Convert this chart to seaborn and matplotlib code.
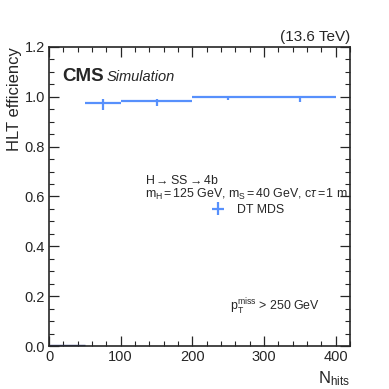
import numpy as np
import pandas as pd
import seaborn as sns
import matplotlib.pyplot as plt
from matplotlib.ticker import MultipleLocator

# bins in N_hits and trigger efficiency
bin_lo = [0, 50, 100, 200, 300]
bin_hi = [50, 100, 200, 300, 400]
eff = [0.0, 0.975, 0.985, 1.0, 1.0]
err_dn = [0.0, 0.027, 0.022, 0.013, 0.021]
err_up = [0.0, 0.015, 0.008, 0.0, 0.0]

df = pd.DataFrame({"lo": bin_lo, "hi": bin_hi, "eff": eff,
                   "dn": err_dn, "up": err_up})
df["x"] = (df["lo"] + df["hi"]) / 2
df["hw"] = (df["hi"] - df["lo"]) / 2

sns.set_style("ticks")
plt.rcParams["font.family"] = ["Liberation Sans", "DejaVu Sans"]
plt.rcParams["mathtext.fontset"] = "custom"
plt.rcParams["mathtext.rm"] = "Liberation Sans"
plt.rcParams["mathtext.it"] = "Liberation Sans:italic"

fig = plt.figure(figsize=(3.89, 3.89), dpi=100)
ax = fig.add_axes([49 / 389, 1 - 346 / 389, (350 - 49) / 389, (346 - 47) / 389])

blue = "#5790fc"
main = df[df["eff"] > 0]
ax.errorbar(main["x"], main["eff"], xerr=main["hw"],
            yerr=[main["dn"], main["up"]], fmt="none", ecolor=blue,
            elinewidth=1.6, capsize=0, label="DT MDS")
zero = df[df["eff"] == 0]
ax.errorbar(zero["x"], zero["eff"] + 0.003, xerr=zero["hw"], fmt="none",
            ecolor="#3b4a8c", elinewidth=1.0, capsize=0, clip_on=False)

ax.set_xlim(0, 420)
ax.set_ylim(0, 1.2)
ax.xaxis.set_major_locator(MultipleLocator(100))
ax.xaxis.set_minor_locator(MultipleLocator(20))
ax.yaxis.set_major_locator(MultipleLocator(0.2))
ax.yaxis.set_minor_locator(MultipleLocator(0.05))
ax.yaxis.set_major_formatter(plt.FormatStrFormatter("%.1f"))
ax.tick_params(which="both", direction="in", top=True, right=True, labelsize=10.5)
ax.tick_params(which="major", length=7, width=0.9, pad=3)
ax.tick_params(which="minor", length=3.5, width=0.8)
for s in ax.spines.values():
    s.set_linewidth(1.2)

ax.set_ylabel("HLT efficiency", fontsize=12, loc="top", labelpad=2)
ax.set_xlabel(r"N$_{\mathrm{hits}}$", fontsize=12, loc="right")

ax.text(0.045, 0.93, "CMS", transform=ax.transAxes, fontsize=13.5,
        fontweight="bold", va="top")
ax.text(0.19, 0.922, "Simulation", transform=ax.transAxes, fontsize=10.5,
        style="italic", va="top")
ax.text(1.0, 1.01, "(13.6 TeV)", transform=ax.transAxes, fontsize=11,
        ha="right", va="bottom")

ax.text(0.32, 0.555, r"H$\rightarrow$SS$\rightarrow$4b", transform=ax.transAxes,
        fontsize=8.9, va="center")
ax.text(0.32, 0.508,
        r"m$_\mathrm{H}$$\,$=$\,$125 GeV, m$_\mathrm{S}$$\,$=$\,$40 GeV, c$\tau$$\,$=$\,$1 m",
        transform=ax.transAxes, fontsize=8.9, va="center")
ax.legend(loc="center left", bbox_to_anchor=(0.5, 0.455), frameon=False,
          fontsize=8.9, handlelength=1.2, handletextpad=0.9)
ax.text(0.6, 0.13, r"p$_\mathrm{T}^\mathrm{miss}$ > 250 GeV",
        transform=ax.transAxes, fontsize=8.9, va="center")

fig.savefig("out.png", dpi=100)
